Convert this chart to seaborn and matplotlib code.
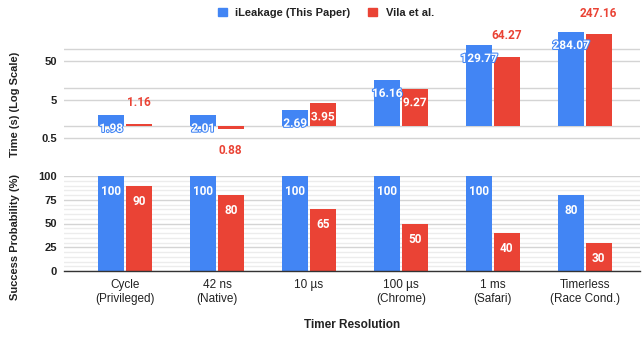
import numpy as np
import pandas as pd
import matplotlib
matplotlib.use("Agg")
import matplotlib.pyplot as plt
import matplotlib.patheffects as pe
from matplotlib.patches import Patch
from matplotlib.ticker import NullFormatter
import seaborn as sns

# data
categories = ["Cycle\n(Privileged)", "42 ns\n(Native)", "10 µs", "100 µs\n(Chrome)",
              "1 ms\n(Safari)", "Timerless\n(Race Cond.)"]
series = ["iLeakage (This Paper)", "Vila et al."]
time_ileakage = [1.98, 2.01, 2.69, 16.16, 129.77, 284.07]
time_vila = [1.16, 0.88, 3.95, 9.27, 64.27, 247.16]
success_ileakage = [100, 100, 100, 100, 100, 80]
success_vila = [90, 80, 65, 50, 40, 30]

# where the labels of the top panel sit (Google Sheets style)
place_ileakage = ["in"] * 6
place_vila = ["above", "below", "in", "in", "above", "above"]

BLUE = "#4285F4"
RED = "#EA4335"
DARK = "#222222"
LBL = ["Roboto", "DejaVu Sans"]

plt.rcParams['font.family'] = ['Liberation Sans', 'DejaVu Sans']

df_time = pd.DataFrame({"Timer": categories * 2,
                        "Series": [series[0]] * 6 + [series[1]] * 6,
                        "Value": time_ileakage + time_vila})
df_succ = pd.DataFrame({"Timer": categories * 2,
                        "Series": [series[0]] * 6 + [series[1]] * 6,
                        "Value": success_ileakage + success_vila})

fig = plt.figure(figsize=(6.42, 3.39), dpi=100)
ax_t = fig.add_axes([64 / 642, 1 - 150 / 339, 576 / 642, 122 / 339])
ax_b = fig.add_axes([64 / 642, 1 - 271 / 339, 576 / 642, 95 / 339])

# ---- top panel: time, log scale, bars start at 1
sns.barplot(data=df_time, x="Timer", y="Value", hue="Series", palette=[BLUE, RED],
            width=0.6, gap=0.057, saturation=1, legend=False, ax=ax_t)
for cont in ax_t.containers:
    for bar in cont:
        h = bar.get_height()
        bar.set_y(1)
        bar.set_height(h - 1)
ax_t.set_yscale("log")
ax_t.set_ylim(0.244, 360)
ax_t.set_xlim(-0.663, 5.598)
ax_t.set_yticks([0.5, 5, 50])
ax_t.set_yticklabels(["0.5", "5", "50"])
ax_t.set_yticks([1, 10, 100], minor=True)
ax_t.yaxis.set_minor_formatter(NullFormatter())
ax_t.grid(axis="y", which="both", color="#d4d4d4", lw=1)
ax_t.set_axisbelow(True)
ax_t.tick_params(axis="x", bottom=False, labelbottom=False)
ax_t.tick_params(axis="y", which="both", length=0, pad=5, labelsize=8, labelcolor=DARK)
for lab in ax_t.get_yticklabels():
    lab.set_fontweight("bold")
ax_t.set_xlabel("")
ax_t.set_ylabel("Time (s) (Log Scale)", fontsize=8, fontweight="bold", color=DARK)
ax_t.yaxis.set_label_coords(-0.076, 0.377)
for s in ax_t.spines.values():
    s.set_visible(False)

for cont, vals, places, col in zip(ax_t.containers, [time_ileakage, time_vila],
                                   [place_ileakage, place_vila], [BLUE, RED]):
    for bar, v, p in zip(cont, vals, places):
        xc = bar.get_x() + bar.get_width() / 2
        if p == "in":
            ax_t.annotate(f"{v:.2f}", (xc, v), xytext=(0, -5), textcoords="offset points",
                          ha="center", va="top", fontsize=8.5, fontweight="bold", color="white",
                          family=LBL,
                          path_effects=[pe.withStroke(linewidth=1.5, foreground=col)])
        elif p == "above":
            ax_t.annotate(f"{v:.2f}", (xc, v), xytext=(0, 10.5), textcoords="offset points",
                          ha="center", va="bottom", fontsize=8.5, fontweight="bold", color=col,
                          family=LBL)
        else:
            ax_t.annotate(f"{v:.2f}", (xc, v), xytext=(0, -11), textcoords="offset points",
                          ha="center", va="top", fontsize=8.5, fontweight="bold", color=col,
                          family=LBL)

# ---- bottom panel: success probability
sns.barplot(data=df_succ, x="Timer", y="Value", hue="Series", palette=[BLUE, RED],
            width=0.6, gap=0.057, saturation=1, legend=False, ax=ax_b)
ax_b.set_ylim(0, 100)
ax_b.set_xlim(-0.663, 5.598)
ax_b.set_yticks([0, 25, 50, 75, 100])
ax_b.set_yticks([m for m in range(0, 101, 5) if m % 25], minor=True)
ax_b.yaxis.set_minor_formatter(NullFormatter())
ax_b.grid(axis="y", which="major", color="#d4d4d4", lw=1)
ax_b.grid(axis="y", which="minor", color="#ececec", lw=1)
ax_b.set_axisbelow(True)
ax_b.tick_params(axis="y", which="both", length=0, pad=5, labelsize=8, labelcolor=DARK)
for lab in ax_b.get_yticklabels():
    lab.set_fontweight("bold")
ax_b.tick_params(axis="x", length=0, pad=6, labelsize=8.5, labelcolor=DARK)
for lab in ax_b.get_xticklabels():
    lab.set_linespacing(1.2)
for s in ["top", "left", "right"]:
    ax_b.spines[s].set_visible(False)
ax_b.spines["bottom"].set_color("#333333")
ax_b.spines["bottom"].set_linewidth(1)
ax_b.set_xlabel("")
ax_b.set_ylabel("Success Probability (%)", fontsize=8, fontweight="bold", color=DARK)
ax_b.yaxis.set_label_coords(-0.076, 0.363)

for cont, vals in zip(ax_b.containers, [success_ileakage, success_vila]):
    for bar, v in zip(cont, vals):
        xc = bar.get_x() + bar.get_width() / 2
        ax_b.annotate(f"{v}", (xc, v), xytext=(0, -6.5), textcoords="offset points",
                      ha="center", va="top", fontsize=8.5, fontweight="bold", color="white",
                      family=LBL)

fig.text(352 / 642, 1 - 325 / 339, "Timer Resolution", ha="center", va="center",
         fontsize=8.5, fontweight="bold", color=DARK)

handles = [Patch(color=BLUE), Patch(color=RED)]
fig.legend(handles, series, loc="center", bbox_to_anchor=(326 / 642, 1 - 13 / 339), ncol=2,
           frameon=False, handlelength=0.75, handleheight=0.75, handletextpad=0.8,
           columnspacing=1.6, prop={"size": 8, "weight": "bold"}, labelcolor=DARK)

fig.savefig("out.png", dpi=100)
